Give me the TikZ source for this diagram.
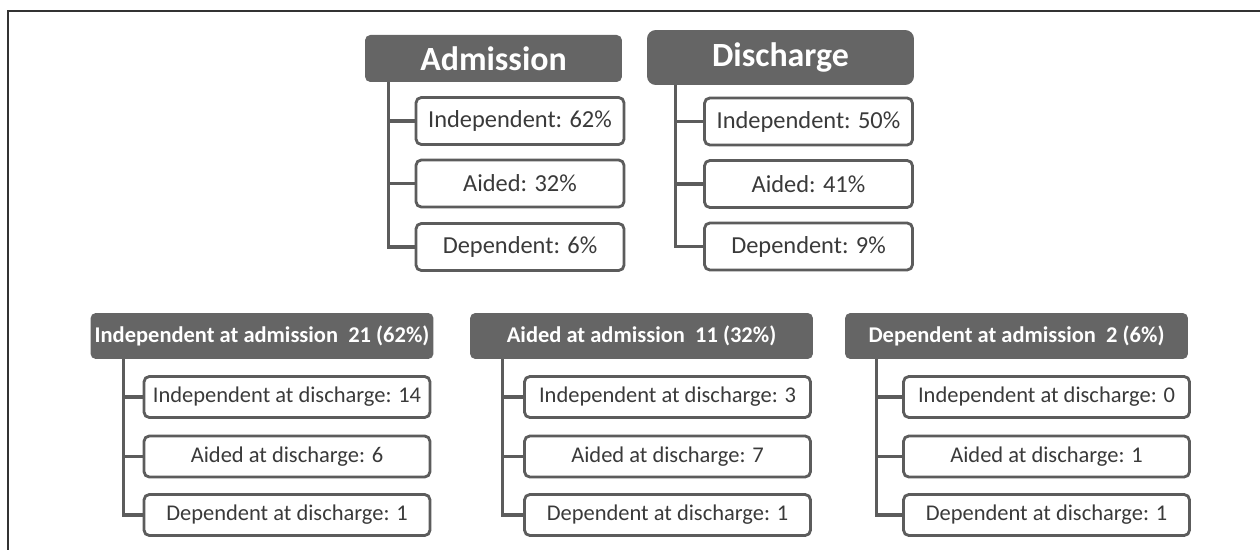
\documentclass[tikz,border=0pt]{standalone}
\usepackage{fontspec}
\setmainfont{Carlito}
\usetikzlibrary{positioning, calc}
\definecolor{hdrgray}{HTML}{656565}
\definecolor{boxgray}{HTML}{5C5C5C}
\definecolor{txtgray}{HTML}{3A3A3A}
\tikzset{
        my-header/.style={
            fill=hdrgray, rounded corners=3pt, text=white, font=\bfseries, inner sep=0pt
        },
        my-item/.style={
            draw=boxgray, line width=1.6pt, rounded corners=3pt, fill=white, text=txtgray, inner sep=0pt
        },
        top-item/.style={my-item, minimum width=4.16cm, minimum height=0.94cm, font=\fontsize{13.9}{16}\selectfont},
        low-item/.style={my-item, minimum width=5.72cm, minimum height=0.82cm, font=\fontsize{12.8}{15}\selectfont},
        low-header/.style={my-header, minimum width=6.86cm, minimum height=0.92cm, font=\fontsize{12.8}{15}\selectfont\bfseries},
        my-tree/.style={draw=boxgray, line width=1.8pt},
}

\begin{document}
\begin{tikzpicture}[x=0.02cm, y=-0.02cm]

        \useasboundingbox (0,0) rectangle (1260,550);
        \draw [line width=1.2pt, draw=black!80] (8,550) -- (8,11) -- (1260,11);

        %DRAW HEADERS (at coordinates, the lists hang from them)
        \node [my-header, minimum width=5.14cm, minimum height=0.94cm, font=\fontsize{19.3}{22}\selectfont\bfseries] (ADM) at (493.5,58.5) {Admission};
        \node [my-header, minimum width=5.34cm, minimum height=1.10cm, rounded corners=5pt, font=\fontsize{19.3}{22}\selectfont\bfseries] (DIS) at (780.5,57.5) {Discharge};
        \node [low-header] (IND) at (262,336)   {Independent at admission~ 21 (62\%)};
        \node [low-header] (AID) at (641.5,336) {Aided at admission~ 11 (32\%)};
        \node [low-header] (DEP) at (1016.5,336) {Dependent at admission~ 2 (6\%)};

        %DRAW ITEMS (relative to their header)
        \node [top-item] (ADM-i) at ($(ADM)+(26.5,62.5)$)  {Independent: 62\%};
        \node [top-item] (ADM-a) at ($(ADM)+(26.5,125)$)   {Aided: 32\%};
        \node [top-item] (ADM-d) at ($(ADM)+(26.5,188.5)$) {Dependent: 6\%};

        \node [top-item] (DIS-i) at ($(DIS)+(28,64)$)  {Independent: 50\%};
        \node [top-item] (DIS-a) at ($(DIS)+(28,126.5)$) {Aided: 41\%};
        \node [top-item] (DIS-d) at ($(DIS)+(28,189)$) {Dependent: 9\%};

        \node [low-item] (IND-i) at ($(IND)+(25,61)$)  {Independent at discharge: 14};
        \node [low-item] (IND-a) at ($(IND)+(25,120.5)$) {Aided at discharge: 6};
        \node [low-item] (IND-d) at ($(IND)+(25,179)$) {Dependent at discharge: 1};

        \node [low-item] (AID-i) at ($(AID)+(26,61)$)  {Independent at discharge: 3};
        \node [low-item] (AID-a) at ($(AID)+(26,120.5)$) {Aided at discharge: 7};
        \node [low-item] (AID-d) at ($(AID)+(26,179)$) {Dependent at discharge: 1};

        \node [low-item] (DEP-i) at ($(DEP)+(30,61)$)  {Independent at discharge: 0};
        \node [low-item] (DEP-a) at ($(DEP)+(30,120.5)$) {Aided at discharge: 1};
        \node [low-item] (DEP-d) at ($(DEP)+(30,179)$) {Dependent at discharge: 1};

        % CONNECT TOP LISTS
        \draw [my-tree] ($(ADM.south west)+(24,0)$) |- (ADM-d.west);
        \draw [my-tree] ($(ADM.south west)+(24,0)$) |- (ADM-a.west);
        \draw [my-tree] ($(ADM.south west)+(24,0)$) |- (ADM-i.west);

        \draw [my-tree] ($(DIS.south west)+(29,0)$) |- (DIS-d.west);
        \draw [my-tree] ($(DIS.south west)+(29,0)$) |- (DIS-a.west);
        \draw [my-tree] ($(DIS.south west)+(29,0)$) |- (DIS-i.west);

        % CONNECT LOWER LISTS
        \draw [my-tree] ($(IND.south west)+(33,0)$) |- (IND-d.west);
        \draw [my-tree] ($(IND.south west)+(33,0)$) |- (IND-a.west);
        \draw [my-tree] ($(IND.south west)+(33,0)$) |- (IND-i.west);

        \draw [my-tree] ($(AID.south west)+(33,0)$) |- (AID-d.west);
        \draw [my-tree] ($(AID.south west)+(33,0)$) |- (AID-a.west);
        \draw [my-tree] ($(AID.south west)+(33,0)$) |- (AID-i.west);

        \draw [my-tree] ($(DEP.south west)+(32,0)$) |- (DEP-d.west);
        \draw [my-tree] ($(DEP.south west)+(32,0)$) |- (DEP-a.west);
        \draw [my-tree] ($(DEP.south west)+(32,0)$) |- (DEP-i.west);

    \end{tikzpicture}
\end{document}
